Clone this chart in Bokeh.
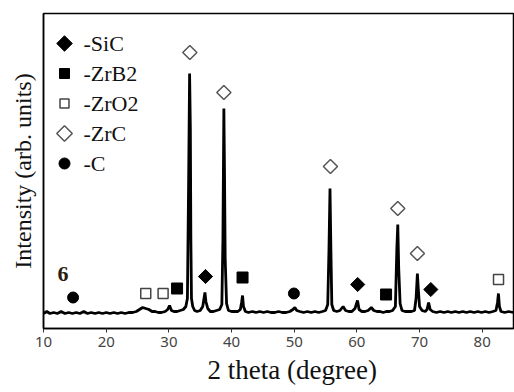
import numpy as np
from bokeh.plotting import figure
from bokeh.models import Range1d, Label, FixedTicker, Title
from bokeh.core.properties import value
from bokeh.embed import file_html
from bokeh.resources import INLINE

# ---- XRD pattern (2 theta, intensity in arb. units) ----
two_theta = [10.0, 10.5, 11.0, 11.6, 12.2, 12.8, 13.4, 14.0, 14.6, 15.2, 15.8, 16.4, 17.0, 17.6,
             18.2, 18.8, 19.4, 20.0, 20.6, 21.2, 21.8, 22.4, 23.0, 23.6, 24.2, 24.8, 25.3, 25.8,
             26.3, 26.8, 27.3, 27.8, 28.3, 28.8, 29.4, 29.8, 30.1, 30.4, 30.8, 31.3, 31.8, 32.3,
             32.7, 32.95, 33.15, 33.3, 33.42, 33.5, 33.6, 33.8, 34.1, 34.5, 35.0, 35.4, 35.6, 35.75,
             35.9, 36.2, 36.6, 37.1, 37.6, 38.1, 38.45, 38.62, 38.77, 38.88, 38.98, 39.2, 39.5, 40.0,
             40.5, 41.0, 41.4, 41.6, 41.75, 41.9, 42.2, 42.7, 43.3, 43.9, 44.5, 45.1, 45.7, 46.3,
             46.9, 47.5, 48.1, 48.7, 49.3, 49.8, 50.1, 50.4, 50.9, 51.5, 52.1, 52.7, 53.3, 53.9,
             54.5, 55.0, 55.35, 55.55, 55.71, 55.85, 56.0, 56.3, 56.8, 57.3, 57.8, 58.2, 58.7, 59.2,
             59.7, 60.1, 60.35, 60.8, 61.3, 61.8, 62.3, 62.7, 63.2, 63.7, 64.2, 64.7, 65.2, 65.7,
             66.15, 66.38, 66.53, 66.68, 66.9, 67.2, 67.7, 68.2, 68.7, 69.2, 69.45, 69.66, 69.8, 70.0,
             70.4, 70.9, 71.2, 71.45, 71.7, 72.1, 72.7, 73.3, 73.9, 74.5, 75.1, 75.7, 76.3, 76.9,
             77.5, 78.1, 78.7, 79.3, 79.9, 80.5, 81.1, 81.7, 82.2, 82.45, 82.6, 82.75, 83.0, 83.6,
             84.2, 85.0]
intensity = [15, 17, 15, 16, 15, 17, 15, 16, 15, 16, 15, 17, 15, 16,
             15, 16, 15, 16, 15, 16, 15, 16, 15, 16, 16, 17, 19, 21,
             20, 19, 17, 17, 16, 16, 17, 19, 23, 18, 17, 17, 18, 19,
             22, 30, 150, 255, 200, 90, 30, 22, 18, 17, 18, 22, 30, 36,
             27, 20, 17, 17, 18, 19, 24, 90, 220, 150, 70, 25, 18, 17,
             17, 17, 19, 26, 33, 22, 17, 16, 17, 16, 17, 16, 17, 16,
             16, 17, 16, 16, 17, 19, 21, 18, 17, 16, 17, 16, 17, 16,
             17, 18, 24, 80, 140, 80, 24, 18, 17, 18, 22, 18, 17, 17,
             20, 28, 19, 17, 17, 18, 21, 18, 17, 17, 16, 17, 17, 18,
             22, 80, 104, 60, 25, 18, 17, 17, 17, 18, 30, 55, 40, 22,
             18, 17, 19, 26, 19, 17, 16, 17, 16, 17, 16, 17, 16, 17,
             16, 17, 16, 17, 16, 17, 16, 17, 18, 26, 35, 22, 17, 16,
             17, 16]

# ---- phase markers (2 theta, marker height) ----
sic_x = [35.84, 60.13, 71.8]
sic_y = [52, 44, 39]
zrb2_x = [31.3, 41.75, 64.66]
zrb2_y = [40, 51, 34]
zro2_x = [26.3, 29.07, 82.61]
zro2_y = [35, 35, 49]
zrc_x = [33.34, 38.77, 55.78, 66.53, 69.66]
zrc_y = [276, 236, 162, 120, 75]
c_x = [14.7, 49.95]
c_y = [31, 35]

legend_labels = ["-SiC", "-ZrB2", "-ZrO2", "-ZrC", "-C"]
x_ticks = [10, 20, 30, 40, 50, 60, 70, 80]
sample_label = "6"
sample_x = 13.1
sample_y = 55

SERIF = "Liberation Serif"
W, H = 514, 392
ML, MR, MT, MB = 43, 1, 13, 64
FW, FH = W - ML - MR, H - MT - MB

p = figure(width=W, height=H, output_backend="svg", toolbar_location=None,
           x_range=Range1d(9.98, 85.0), y_range=Range1d(0, 315),
           min_border_left=ML, min_border_right=MR, min_border_top=MT, min_border_bottom=MB)

p.background_fill_color = "white"
p.border_fill_color = "white"
p.outline_line_color = "black"
p.outline_line_width = 1.5
p.xgrid.visible = False
p.ygrid.visible = False

# x axis
p.xaxis.ticker = FixedTicker(ticks=x_ticks)
p.xaxis.major_label_text_font = "Noto Sans"
p.xaxis.major_label_text_font_size = "15px"
p.xaxis.major_label_text_color = "#444444"
p.xaxis.major_label_standoff = 4
p.xaxis.major_tick_out = 4
p.xaxis.major_tick_in = 0
p.xaxis.minor_tick_out = 0
p.xaxis.minor_tick_in = 0
p.xaxis.axis_line_color = "black"
p.xaxis.axis_line_width = 1.5
p.xaxis.major_tick_line_color = "#333333"

xtitle = Title(text="2 theta (degree)", align="left", offset=164, standoff=6,
               text_font=SERIF, text_font_size="27px", text_font_style="normal",
               text_color="#111111")
p.add_layout(xtitle, "below")

# y axis (no ticks)
p.yaxis.ticker = FixedTicker(ticks=[])
p.yaxis.axis_label = "Intensity (arb. units)"
p.yaxis.axis_label_text_font = SERIF
p.yaxis.axis_label_text_font_size = "24px"
p.yaxis.axis_label_text_font_style = "normal"
p.yaxis.axis_label_text_color = "#111111"
p.yaxis.axis_label_standoff = 8
p.yaxis.major_tick_out = 0
p.yaxis.major_tick_in = 0
p.yaxis.minor_tick_out = 0
p.yaxis.minor_tick_in = 0
p.yaxis.axis_line_color = "black"
p.yaxis.axis_line_width = 1.5

# pattern
p.line(two_theta, intensity, line_color="black", line_width=2.8)

# phase markers
p.scatter(sic_x, sic_y, marker="square", angle=np.pi / 4, size=10,
          fill_color="black", line_color="black", line_width=1)
p.scatter(zrb2_x, zrb2_y, marker="square", size=11,
          fill_color="black", line_color="black", line_width=1)
p.scatter(zro2_x, zro2_y, marker="square", size=10,
          fill_color="white", line_color="#444444", line_width=1.5)
p.scatter(zrc_x, zrc_y, marker="square", angle=np.pi / 4, size=10,
          fill_color="white", line_color="#555555", line_width=1.5)
p.scatter(c_x, c_y, marker="circle", size=11,
          fill_color="black", line_color="black", line_width=1)

# legend (drawn in pixel space of the frame)
p.extra_x_ranges = {"px": Range1d(0, FW)}
p.extra_y_ranges = {"py": Range1d(0, FH)}
row_y = [FH - 30 - 30 * i for i in range(len(legend_labels))]
lx = [21] * len(legend_labels)
styles = [
    dict(marker="square", angle=np.pi / 4, size=11, fill_color="black", line_color="black", line_width=1),
    dict(marker="square", angle=0, size=10, fill_color="black", line_color="black", line_width=1),
    dict(marker="square", angle=0, size=9, fill_color="white", line_color="#444444", line_width=1.5),
    dict(marker="square", angle=np.pi / 4, size=11, fill_color="white", line_color="#555555", line_width=1.5),
    dict(marker="circle", angle=0, size=11, fill_color="black", line_color="black", line_width=1),
]
for i, st in enumerate(styles):
    p.scatter([lx[i]], [row_y[i]], x_range_name="px", y_range_name="py", **st)
p.text([40] * len(legend_labels), row_y, text=legend_labels, x_range_name="px", y_range_name="py",
       text_font=value(SERIF), text_font_size="22px", text_color="#111111",
       text_align="left", text_baseline="middle")

p.add_layout(Label(x=sample_x, y=sample_y, text=sample_label, text_font=SERIF,
                   text_font_size="22px", text_font_style="bold", text_color="#2b1d0e",
                   text_align="center", text_baseline="middle"))

open("out.html", "w").write(file_html(p, INLINE))
